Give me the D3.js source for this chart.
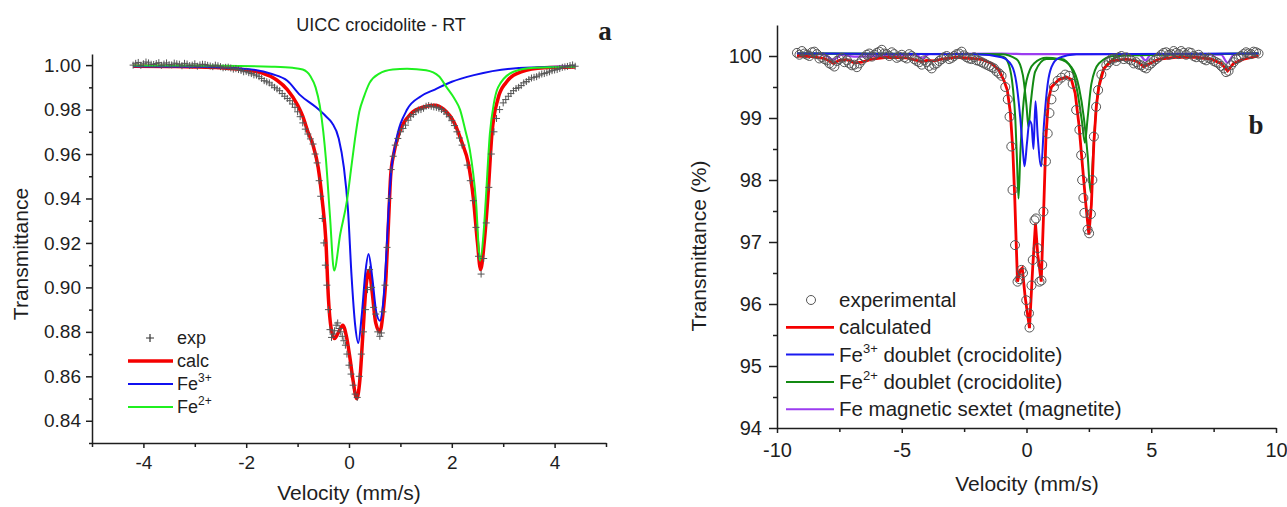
<!DOCTYPE html>
<html>
<head>
<meta charset="utf-8">
<script src="https://cdn.jsdelivr.net/npm/d3@7"></script>
<style>
  body { margin: 0; background: #fff; }
  text { font-family: Arial, "Liberation Sans", sans-serif; fill: #1e1e1e; }
  .axis path, .axis line { stroke: #1e1e1e; stroke-width: 1.5; }
  .axis text { font-family: Arial, "Liberation Sans", sans-serif; fill: #1e1e1e; }
</style>
</head>
<body>
<div id="svganchor"></div>
<script>
let width = 1287;
let height = 507;

// ---- panel a : UICC crocidolite - RT ----
let aXTicks = [-4, -2, 0, 2, 4];
let aYTicks = [0.84, 0.86, 0.88, 0.90, 0.92, 0.94, 0.96, 0.98, 1.00];

let aExp = [
  [-4.2,1.0000],[-4.1,1.0012],[-4.0,1.0006],[-3.9,1.0010],[-3.8,1.0003],[-3.7,1.0011],[-3.6,1.0005],
  [-3.5,1.0002],[-3.4,1.0009],[-3.3,1.0004],[-3.2,1.0008],[-3.1,0.9998],[-3.0,1.0006],[-2.9,1.0001],
  [-2.8,1.0003],[-2.7,0.9996],[-2.6,1.0000],[-2.5,0.9993],[-2.4,0.9990],[-2.3,0.9987],[-2.2,0.9984],
  [-2.1,0.9976],[-2.0,0.9972],[-1.9,0.9962],[-1.8,0.9955],[-1.7,0.9940],[-1.6,0.9925],[-1.5,0.9910],
  [-1.4,0.9893],[-1.3,0.9872],[-1.2,0.9850],[-1.1,0.9825],[-1.0,0.9790],[-0.95,0.9768],[-0.9,0.9740],
  [-0.85,0.9712],[-0.8,0.9690],[-0.75,0.9668],[-0.7,0.9645],[-0.66,0.9600],[-0.62,0.9560],[-0.58,0.9480],
  [-0.55,0.9410],[-0.52,0.9310],[-0.49,0.9200],[-0.46,0.9100],[-0.43,0.9010],[-0.40,0.8900],[-0.37,0.8810],
  [-0.34,0.8775],[-0.31,0.8790],[-0.28,0.8805],[-0.25,0.8830],[-0.22,0.8840],[-0.19,0.8815],[-0.16,0.8800],
  [-0.13,0.8780],[-0.10,0.8760],[-0.07,0.8740],[-0.04,0.8700],[0.0,0.8650],[0.04,0.8610],[0.08,0.8560],
  [0.12,0.8520],[0.16,0.8505],[0.20,0.8600],[0.24,0.8700],[0.28,0.8800],[0.32,0.8900],[0.36,0.8990],
  [0.40,0.9080],[0.44,0.9000],[0.48,0.8910],[0.52,0.8880],[0.56,0.8800],[0.60,0.8780],[0.63,0.8795],
  [0.66,0.8890],[0.70,0.9010],[0.74,0.9180],[0.78,0.9400],[0.82,0.9530],[0.86,0.9590],[0.90,0.9640],
  [0.95,0.9670],[1.0,0.9700],[1.1,0.9730],[1.2,0.9770],[1.3,0.9790],[1.4,0.9800],[1.5,0.9815],
  [1.6,0.9815],[1.7,0.9810],[1.8,0.9800],[1.9,0.9780],[2.0,0.9750],[2.1,0.9700],[2.2,0.9640],
  [2.3,0.9550],[2.36,0.9480],[2.42,0.9390],[2.47,0.9270],[2.52,0.9140],[2.57,0.9060],[2.62,0.9130],
  [2.67,0.9290],[2.72,0.9450],[2.77,0.9600],[2.82,0.9700],[2.87,0.9760],[2.93,0.9800],[3.0,0.9830],
  [3.1,0.9860],[3.2,0.9885],[3.3,0.9900],[3.4,0.9920],[3.5,0.9935],[3.6,0.9945],[3.7,0.9955],
  [3.8,0.9962],[3.9,0.9970],[4.0,0.9978],[4.1,0.9985],[4.2,0.9992],[4.3,0.9998],[4.4,0.9995],
  // in-between channels on the shoulders
  [-4.15,1.0008],[-4.05,0.9999],[-3.95,1.0014],[-3.85,1.0004],[-3.75,1.0007],[-3.65,0.9999],[-3.55,1.0010],
  [-3.45,1.0001],[-3.35,1.0006],[-3.25,0.9997],[-3.15,1.0005],[-3.05,1.0000],[-2.95,0.9995],[-2.85,1.0004],
  [-2.75,0.9999],[-2.65,0.9993],[-2.55,0.9997],[-2.45,0.9988],[-2.35,0.9991],[-2.25,0.9982],[-2.15,0.9980],
  [-2.05,0.9970],[-1.95,0.9966],[-1.85,0.9956],[-1.75,0.9948],[-1.65,0.9930],[-1.55,0.9920],[-1.45,0.9900],
  [-1.35,0.9885],[-1.25,0.9860],[-1.15,0.9840],[-1.05,0.9810],
  [1.05,0.9715],[1.15,0.9752],[1.25,0.9778],[1.35,0.9798],[1.45,0.9806],[1.55,0.9818],[1.65,0.9812],
  [1.75,0.9806],[1.85,0.9792],[1.95,0.9768],[2.05,0.9728],[2.15,0.9672],
  [3.05,0.9845],[3.15,0.9872],[3.25,0.9895],[3.35,0.9908],[3.45,0.9926],[3.55,0.9942],[3.65,0.9948],
  [3.75,0.9960],[3.85,0.9966],[3.95,0.9975],[4.05,0.9980],[4.15,0.9990],[4.25,0.9994],[4.35,1.0001]
];

let aCalc = [
  [-4.2,0.9995],[-3.5,0.9994],[-3.0,0.9992],[-2.5,0.9988],[-2.0,0.9978],[-1.7,0.9965],[-1.4,0.9932],
  [-1.2,0.9890],[-1.0,0.9820],[-0.9,0.9770],[-0.8,0.9700],[-0.7,0.9640],[-0.6,0.9540],[-0.52,0.9390],
  [-0.45,0.9210],[-0.4,0.8950],[-0.35,0.8820],[-0.28,0.8770],[-0.2,0.8800],[-0.12,0.8830],[-0.05,0.8780],
  [0.02,0.8680],[0.08,0.8580],[0.15,0.8500],[0.21,0.8580],[0.27,0.8790],[0.33,0.9000],[0.39,0.9076],
  [0.45,0.8980],[0.52,0.8840],[0.60,0.8800],[0.66,0.8880],[0.72,0.9050],[0.77,0.9300],[0.81,0.9500],
  [0.87,0.9600],[0.97,0.9690],[1.2,0.9780],[1.45,0.9812],[1.67,0.9820],[1.85,0.9800],[2.05,0.9740],
  [2.2,0.9650],[2.32,0.9560],[2.42,0.9400],[2.5,0.9200],[2.56,0.9080],[2.63,0.9200],[2.7,0.9400],
  [2.78,0.9690],[2.9,0.9850],[3.05,0.9920],[3.35,0.9970],[3.8,0.9988],[4.4,0.9992]
];

let aFe3 = [
  [-4.2,0.9995],[-3.0,0.9993],[-2.0,0.9983],[-1.5,0.9960],[-1.2,0.9930],[-0.95,0.9865],[-0.64,0.9810],
  [-0.45,0.9770],[-0.33,0.9740],[-0.2,0.9670],[-0.1,0.9540],[-0.02,0.9350],[0.05,0.9050],[0.12,0.8830],
  [0.18,0.8750],[0.25,0.8880],[0.32,0.9070],[0.38,0.9150],[0.45,0.9050],[0.53,0.8890],[0.60,0.8850],
  [0.66,0.8920],[0.72,0.9120],[0.77,0.9350],[0.82,0.9520],[0.9,0.9640],[1.13,0.9800],[1.4,0.9860],
  [1.67,0.9890],[2.0,0.9925],[2.43,0.9955],[3.2,0.9985],[4.4,0.9995]
];

let aFe2 = [
  [-4.2,0.9998],[-2.5,0.9997],[-1.5,0.9993],[-1.1,0.9988],[-0.9,0.9980],[-0.75,0.9950],[-0.65,0.9900],
  [-0.57,0.9820],[-0.5,0.9700],[-0.45,0.9580],[-0.37,0.9320],[-0.29,0.9076],[-0.17,0.9240],[-0.04,0.9390],
  [0.05,0.9550],[0.13,0.9690],[0.2,0.9790],[0.29,0.9857],[0.4,0.9920],[0.59,0.9962],[0.85,0.9980],
  [1.13,0.9984],[1.5,0.9977],[1.75,0.9950],[1.9,0.9900],[2.05,0.9850],[2.16,0.9800],[2.27,0.9700],
  [2.35,0.9620],[2.47,0.9390],[2.55,0.9120],[2.62,0.9250],[2.66,0.9390],[2.74,0.9690],[2.82,0.9830],
  [2.9,0.9900],[3.2,0.9970],[3.6,0.9988],[4.4,0.9993]
];

// ---- panel b ----
let bXTicks = [-10, -5, 0, 5, 10];
let bYTicks = [94, 95, 96, 97, 98, 99, 100];

let bExp = [
  [-9.2,100.05],[-9.0,100.08],[-8.8,100.02],[-8.6,100.06],[-8.4,100.03],[-8.2,99.98],[-8.0,99.93],
  [-7.8,99.86],[-7.6,99.92],[-7.4,99.97],[-7.2,99.93],[-7.0,99.85],[-6.8,99.82],[-6.6,99.93],
  [-6.4,100.02],[-6.2,99.99],[-6.0,100.05],[-5.8,100.10],[-5.6,100.03],[-5.4,100.06],[-5.2,99.97],
  [-5.0,100.02],[-4.8,99.96],[-4.6,100.00],[-4.4,99.92],[-4.2,99.86],[-4.0,99.90],[-3.8,99.80],
  [-3.6,99.88],[-3.4,99.95],[-3.2,100.00],[-3.0,99.97],[-2.8,100.03],[-2.6,100.07],[-2.4,99.98],
  [-2.2,99.95],[-2.0,99.93],[-1.8,99.90],[-1.6,99.86],[-1.4,99.82],[-1.2,99.75],[-1.0,99.68],
  [-0.85,99.50],[-0.75,99.30],[-0.68,99.02],[-0.61,98.54],[-0.56,97.84],[-0.46,96.95],[-0.36,96.36],
  [-0.28,96.40],[-0.2,96.55],[-0.14,96.50],[-0.01,96.06],[0.1,95.85],[0.12,95.62],[0.2,96.30],
  [0.25,96.71],[0.32,97.35],[0.38,97.38],[0.45,96.90],[0.52,96.36],[0.6,96.38],[0.63,96.63],
  [0.68,97.49],[0.78,98.30],[0.85,98.75],[0.92,99.08],[1.0,99.30],[1.1,99.50],[1.25,99.60],
  [1.4,99.65],[1.55,99.70],[1.7,99.68],[1.85,99.55],[1.99,99.13],[2.12,98.81],[2.19,98.40],
  [2.23,98.00],[2.28,97.71],[2.32,97.47],[2.45,97.20],[2.51,97.14],[2.58,97.45],[2.64,98.00],
  [2.7,98.70],[2.79,99.18],[2.87,99.45],[3.0,99.70],[3.2,99.85],[3.4,99.95],[3.6,99.92],
  [3.8,100.00],[4.0,99.98],[4.2,99.93],[4.4,99.90],[4.6,99.85],[4.8,99.80],[5.0,99.88],
  [5.2,99.95],[5.4,100.02],[5.6,100.06],[5.8,100.03],[6.0,100.05],[6.2,100.08],[6.4,100.02],
  [6.6,100.05],[6.8,99.98],[7.0,99.98],[7.2,99.93],[7.4,99.95],[7.6,99.90],[7.8,99.84],
  [8.0,99.74],[8.2,99.85],[8.4,99.95],[8.6,100.00],[8.8,100.06],[9.0,100.03],[9.2,100.06],
  // in-between channels on the baseline
  [-9.1,100.02],[-8.9,100.04],[-8.7,100.00],[-8.5,100.07],[-8.3,99.96],[-8.1,99.95],[-7.9,99.88],
  [-7.7,99.83],[-7.5,99.95],[-7.3,99.90],[-7.1,99.88],[-6.9,99.86],[-6.7,99.88],[-6.5,99.98],
  [-6.3,100.04],[-6.1,100.02],[-5.9,100.07],[-5.7,100.04],[-5.5,100.00],[-5.3,100.03],[-5.1,99.99],
  [-4.9,99.98],[-4.7,100.03],[-4.5,99.95],[-4.3,99.90],[-4.1,99.93],[-3.9,99.84],[-3.7,99.86],
  [-3.5,99.92],[-3.3,99.98],[-3.1,99.95],[-2.9,100.00],[-2.7,100.04],[-2.5,100.01],[-2.3,99.96],
  [-2.1,99.98],[-1.9,99.92],[-1.7,99.88],[-1.5,99.84],[-1.3,99.80],[-1.1,99.72],
  [3.3,99.90],[3.5,99.96],[3.7,99.98],[3.9,99.95],[4.1,99.95],[4.3,99.88],[4.5,99.86],
  [4.7,99.82],[4.9,99.85],[5.1,99.92],[5.3,99.98],[5.5,100.05],[5.7,100.02],[5.9,100.08],
  [6.1,100.03],[6.3,100.05],[6.5,100.06],[6.7,100.00],[6.9,100.02],[7.1,99.95],[7.3,99.97],
  [7.5,99.92],[7.7,99.88],[7.9,99.80],[8.1,99.76],[8.3,99.90],[8.5,99.97],[8.7,100.03],
  [8.9,100.04],[9.1,100.07],[9.3,100.04]
];

let bCalc = [
  [-9.2,100.0],[-8.6,99.99],[-8.1,99.96],[-7.9,99.92],[-7.74,99.88],[-7.5,99.93],[-7.2,99.94],
  [-6.9,99.89],[-6.6,99.90],[-6.2,99.95],[-5.6,99.98],[-4.8,99.97],[-4.4,99.93],[-4.2,99.91],
  [-4.0,99.93],[-3.7,99.92],[-3.4,99.95],[-2.8,99.98],[-2.2,99.96],[-1.76,99.94],[-1.4,99.88],
  [-1.1,99.77],[-0.9,99.60],[-0.77,99.45],[-0.65,99.10],[-0.55,98.50],[-0.47,97.70],[-0.41,96.95],
  [-0.36,96.36],[-0.25,96.55],[-0.17,96.58],[-0.05,96.10],[0.12,95.61],[0.25,96.60],[0.36,97.30],
  [0.45,96.80],[0.59,96.36],[0.68,97.40],[0.78,98.70],[0.88,99.30],[1.0,99.50],[1.3,99.62],
  [1.6,99.66],[1.8,99.62],[1.95,99.40],[2.1,98.90],[2.25,98.20],[2.38,97.60],[2.5,97.12],
  [2.6,97.60],[2.7,98.60],[2.8,99.20],[2.9,99.50],[3.1,99.80],[3.4,99.92],[4.0,99.95],
  [4.4,99.92],[4.7,99.83],[4.95,99.88],[5.3,99.95],[6.0,99.98],[6.8,99.98],[7.4,99.95],
  [7.8,99.88],[8.06,99.76],[8.3,99.88],[8.7,99.95],[9.3,100.0]
];

let bFe3 = [
  [-9.2,100.04],[-2.0,100.03],[-1.0,99.98],[-0.6,99.85],[-0.4,99.55],[-0.25,99.00],[-0.15,98.50],
  [-0.08,98.22],[0.02,98.60],[0.12,98.95],[0.2,98.90],[0.28,98.50],[0.36,99.27],[0.45,98.70],
  [0.59,98.22],[0.7,98.90],[0.85,99.55],[1.0,99.82],[1.3,99.97],[2.0,100.03],[9.3,100.04]
];

let bFe2a = [
  [-9.2,100.04],[-1.5,100.03],[-0.9,99.98],[-0.7,99.85],[-0.55,99.50],[-0.45,99.00],[-0.38,98.30],
  [-0.32,97.70],[-0.25,98.40],[-0.15,99.10],[0.0,99.60],[0.3,99.88],[0.8,99.97],[1.3,99.95],
  [1.8,99.82],[2.1,99.50],[2.3,99.00],[2.45,98.40],[2.57,97.80],[2.68,98.50],[2.8,99.20],
  [3.0,99.70],[3.4,99.93],[4.0,100.02],[9.3,100.04]
];

let bFe2b = [
  [-9.2,100.04],[-1.0,100.03],[-0.4,99.95],[-0.15,99.70],[0.0,99.20],[0.08,98.85],[0.16,99.20],
  [0.35,99.75],[0.8,99.95],[1.4,99.95],[1.8,99.80],[2.05,99.40],[2.22,98.95],[2.34,98.60],
  [2.45,99.00],[2.6,99.55],[2.9,99.88],[3.5,100.00],[9.3,100.04]
];

let bMag = [
  [-9.2,100.04],[-8.1,100.02],[-7.74,99.94],[-7.4,100.02],[-6.9,99.99],[-4.4,100.02],[-4.2,99.96],
  [-3.9,100.03],[-1.0,100.04],[0.0,100.03],[4.5,100.03],[4.77,99.93],[5.0,100.03],[7.8,100.02],
  [8.06,99.89],[8.3,100.02],[9.3,100.04]
];

let svg = d3.select("#svganchor")
    .append("svg")
    .attr("width", width)
    .attr("height", height);

svg.append("rect").attr("width", width).attr("height", height).attr("fill", "#fff");

// ================= panel a =================
let ax = d3.scaleLinear().domain([-5, 5]).range([92, 606]);
let ay = d3.scaleLinear().domain([0.83, 1.005]).range([443, 54]);

let aXAxis = svg.append("g").attr("class", "axis")
    .attr("transform", "translate(0,443)")
    .call(d3.axisBottom(ax).tickValues(aXTicks).tickSize(5).tickPadding(8).tickSizeOuter(0)
        .tickFormat(d => String(d)));
aXAxis.selectAll("text").style("font-size", "19px");
svg.append("g").attr("class", "axis")
    .attr("transform", "translate(0,443)")
    .call(d3.axisBottom(ax).tickValues([-5, -3, -1, 1, 3, 5]).tickSize(4).tickFormat("").tickSizeOuter(0))
    .select(".domain").remove();

let aYAxis = svg.append("g").attr("class", "axis")
    .attr("transform", "translate(92,0)")
    .call(d3.axisLeft(ay).tickValues(aYTicks).tickSize(6).tickPadding(5).tickSizeOuter(0)
        .tickFormat(d3.format(".2f")));
aYAxis.selectAll("text").style("font-size", "19px");
svg.append("g").attr("class", "axis")
    .attr("transform", "translate(92,0)")
    .call(d3.axisLeft(ay).tickValues([0.83, 0.85, 0.87, 0.89, 0.91, 0.93, 0.95, 0.97, 0.99])
        .tickSize(3).tickFormat("").tickSizeOuter(0))
    .select(".domain").remove();

let aLine = d3.line()
    .x(d => ax(d[0]))
    .y(d => ay(d[1]))
    .curve(d3.curveMonotoneX);

svg.append("path").datum(aCalc).attr("d", aLine)
    .attr("fill", "none").attr("stroke", "#f50000").attr("stroke-width", 3.5);
svg.append("path").datum(aFe3).attr("d", aLine)
    .attr("fill", "none").attr("stroke", "#1010f0").attr("stroke-width", 2);
svg.append("path").datum(aFe2).attr("d", aLine)
    .attr("fill", "none").attr("stroke", "#1ff01f").attr("stroke-width", 2);

svg.append("g").selectAll(".plus")
    .data(aExp)
    .enter()
    .append("path")
    .attr("class", "plus")
    .attr("transform", d => "translate(" + ax(d[0]) + "," + ay(d[1]) + ")")
    .attr("d", "M-3.5,0H3.5M0,-3.5V3.5")
    .attr("stroke", "#555")
    .attr("stroke-width", 1);

svg.append("text")
    .attr("x", 381).attr("y", 31)
    .attr("text-anchor", "middle")
    .style("font-size", "18px")
    .text("UICC crocidolite - RT");

svg.append("text")
    .attr("x", 605).attr("y", 40)
    .attr("text-anchor", "middle")
    .style("font-family", "'Liberation Serif', 'Times New Roman', serif")
    .style("font-weight", "bold")
    .style("font-size", "27px")
    .text("a");

svg.append("text")
    .attr("x", 349).attr("y", 500)
    .attr("text-anchor", "middle")
    .style("font-size", "21px")
    .text("Velocity (mm/s)");

svg.append("text")
    .attr("transform", "translate(28,254) rotate(-90)")
    .attr("text-anchor", "middle")
    .style("font-size", "21px")
    .text("Transmittance");

// legend a
let aLegend = [
  {label: "exp", sup: "", color: "#444", width: 0},
  {label: "calc", sup: "", color: "#f50000", width: 3.5},
  {label: "Fe", sup: "3+", color: "#1010f0", width: 2},
  {label: "Fe", sup: "2+", color: "#1ff01f", width: 2}
];
aLegend.forEach((d, i) => {
  let y = 338 + i * 23;
  if (i === 0) {
    svg.append("path")
        .attr("transform", "translate(150," + y + ")")
        .attr("d", "M-4,0H4M0,-4V4")
        .attr("stroke", "#333").attr("stroke-width", 1.2);
  } else {
    svg.append("line")
        .attr("x1", 128).attr("x2", 173).attr("y1", y).attr("y2", y)
        .attr("stroke", d.color).attr("stroke-width", d.width);
  }
  let t = svg.append("text").attr("x", 177).attr("y", y + 6).style("font-size", "18px").text(d.label);
  if (d.sup) t.append("tspan").attr("dy", -8).style("font-size", "12px").text(d.sup);
});

// ================= panel b =================
let bx = d3.scaleLinear().domain([-10, 10]).range([777, 1276]);
let by = d3.scaleLinear().domain([94, 100.5]).range([428, 25]);

let bXAxis = svg.append("g").attr("class", "axis")
    .attr("transform", "translate(0,428)")
    .call(d3.axisBottom(bx).tickValues(bXTicks).tickSize(5).tickPadding(10).tickSizeOuter(0)
        .tickFormat(d => String(d)));
bXAxis.selectAll("text").style("font-size", "20px");
svg.append("g").attr("class", "axis")
    .attr("transform", "translate(0,428)")
    .call(d3.axisBottom(bx).tickValues([-7.5, -2.5, 2.5, 7.5]).tickSize(4).tickFormat("").tickSizeOuter(0))
    .select(".domain").remove();

let bYAxis = svg.append("g").attr("class", "axis")
    .attr("transform", "translate(777,0)")
    .call(d3.axisLeft(by).tickValues(bYTicks).tickSize(8).tickPadding(7).tickSizeOuter(0)
        .tickFormat(d => String(d)));
bYAxis.selectAll("text").style("font-size", "20px");
svg.append("g").attr("class", "axis")
    .attr("transform", "translate(777,0)")
    .call(d3.axisLeft(by).tickValues([94.5, 95.5, 96.5, 97.5, 98.5, 99.5])
        .tickSize(4).tickFormat("").tickSizeOuter(0))
    .select(".domain").remove();

let bLine = d3.line()
    .x(d => bx(d[0]))
    .y(d => by(d[1]))
    .curve(d3.curveMonotoneX);

svg.append("path").datum(bMag).attr("d", bLine)
    .attr("fill", "none").attr("stroke", "#9b3cf0").attr("stroke-width", 2.2);
svg.append("path").datum(bFe2b).attr("d", bLine)
    .attr("fill", "none").attr("stroke", "#138a13").attr("stroke-width", 2);
svg.append("path").datum(bFe2a).attr("d", bLine)
    .attr("fill", "none").attr("stroke", "#138a13").attr("stroke-width", 2);
svg.append("path").datum(bFe3).attr("d", bLine)
    .attr("fill", "none").attr("stroke", "#1a1af0").attr("stroke-width", 2);
svg.append("path").datum(bCalc).attr("d", bLine.curve(d3.curveLinear))
    .attr("fill", "none").attr("stroke", "#f50000").attr("stroke-width", 2.8);

svg.append("g").selectAll(".ring")
    .data(bExp)
    .enter()
    .append("circle")
    .attr("class", "ring")
    .attr("cx", d => bx(d[0]))
    .attr("cy", d => by(d[1]))
    .attr("r", 4.5)
    .attr("fill", "none")
    .attr("stroke", "#555")
    .attr("stroke-width", 1);

svg.append("text")
    .attr("x", 1256).attr("y", 134)
    .attr("text-anchor", "middle")
    .style("font-family", "'Liberation Serif', 'Times New Roman', serif")
    .style("font-weight", "bold")
    .style("font-size", "27px")
    .text("b");

svg.append("text")
    .attr("x", 1027).attr("y", 491)
    .attr("text-anchor", "middle")
    .style("font-size", "21px")
    .text("Velocity (mm/s)");

svg.append("text")
    .attr("transform", "translate(706,246) rotate(-90)")
    .attr("text-anchor", "middle")
    .style("font-size", "21px")
    .text("Transmittance (%)");

// legend b
let bLegend = [
  {pre: "experimental", sup: "", post: "", color: "#555"},
  {pre: "calculated", sup: "", post: "", color: "#f50000"},
  {pre: "Fe", sup: "3+", post: " doublet (crocidolite)", color: "#1a1af0"},
  {pre: "Fe", sup: "2+", post: " doublet (crocidolite)", color: "#138a13"},
  {pre: "Fe magnetic sextet (magnetite)", sup: "", post: "", color: "#9b3cf0"}
];
bLegend.forEach((d, i) => {
  let y = 300 + i * 27.3;
  if (i === 0) {
    svg.append("circle").attr("cx", 811).attr("cy", y).attr("r", 4.5)
        .attr("fill", "none").attr("stroke", "#555").attr("stroke-width", 1);
  } else {
    svg.append("line")
        .attr("x1", 786).attr("x2", 834).attr("y1", y).attr("y2", y)
        .attr("stroke", d.color).attr("stroke-width", i === 1 ? 2.8 : 2);
  }
  let t = svg.append("text").attr("x", 839).attr("y", y + 7).style("font-size", "20.5px").text(d.pre);
  if (d.sup) {
    t.append("tspan").attr("dy", -9).style("font-size", "13px").text(d.sup);
    t.append("tspan").attr("dy", 9).text(d.post);
  }
});
</script>
</body>
</html>
